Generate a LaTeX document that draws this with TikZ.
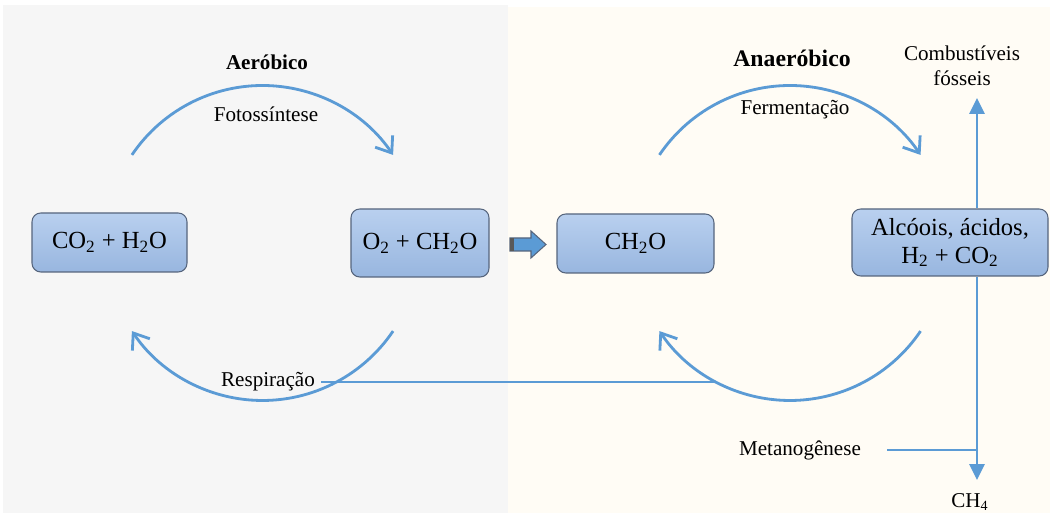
\documentclass[tikz,border=0pt]{standalone}
\usepackage{fontspec}
\setmainfont{Liberation Serif}
\usetikzlibrary{arrows.meta, calc}

\definecolor{seta}{HTML}{5B9BD5}
\definecolor{caixaborda}{HTML}{56657D}
\definecolor{caixatopo}{HTML}{B9D0EF}
\definecolor{caixabase}{HTML}{98B6DF}
\definecolor{fundoaer}{HTML}{F6F6F6}
\definecolor{fundoanaer}{HTML}{FFFCF5}

\begin{document}
\begin{tikzpicture}[
  caixa/.style={draw=caixaborda, line width=0.6pt, rounded corners=5pt, top color=caixatopo, bottom color=caixabase, font=\fontsize{14}{16}\selectfont, align=center, inner sep=2pt},
  rotulo/.style={font=\fontsize{12}{14}\selectfont},
  ciclo/.style={seta, line width=1.6pt, -{Straight Barb[length=8pt, width=12pt]}},
  ramo/.style={seta, line width=1.5pt, -{Triangle[length=9pt, width=8.5pt]}},
  guia/.style={seta, line width=0.8pt}
]
  \useasboundingbox (0,0) rectangle (21,10.26);
  % fundos
  \fill[fundoaer] (0.06,0) rectangle (10.16,10.16);
  \fill[fundoanaer] (10.16,0) rectangle (21,10.12);
  % caixas
  \node[caixa, minimum width=3.1cm, minimum height=1.18cm] (co2) at (2.19,5.41) {CO\textsubscript{2} + H\textsubscript{2}O};
  \node[caixa, minimum width=2.76cm, minimum height=1.36cm] (o2) at (8.4,5.40) {O\textsubscript{2} + CH\textsubscript{2}O};
  \node[caixa, minimum width=3.14cm, minimum height=1.18cm] (ch2o) at (12.71,5.39) {CH\textsubscript{2}O};
  \node[caixa, minimum width=3.92cm, minimum height=1.34cm] (alc) at (19.0,5.41) {Alcóois, ácidos,\\H\textsubscript{2} + CO\textsubscript{2}};
  % passagem
  \filldraw[fill=seta, draw=caixaborda, line width=0.6pt] (10.2,5.5) -- (10.62,5.5) -- (10.62,5.64) -- (10.92,5.37) -- (10.62,5.10) -- (10.62,5.24) -- (10.2,5.24) -- cycle;
  \fill[black!65] (10.2,5.24) rectangle (10.28,5.5);
  % titulos
  \node[font=\fontsize{12}{14}\selectfont\bfseries] (aer) at (5.34,9.02) {Aeróbico};
  \node[font=\fontsize{13.5}{15}\selectfont\bfseries] (anaer) at (15.84,9.1) {Anaeróbico};
  % ciclo aerobico
  \coordinate (ca) at (5.25,5.4);
  \draw[ciclo] ($(ca)+(146:3.15)$) arc[start angle=146, end angle=34, radius=3.15];
  \draw[ciclo] ($(ca)+(-34:3.15)$) arc[start angle=-34, end angle=-146, radius=3.15];
  \node[rotulo] (foto) at (5.32,7.98) {Fotossíntese};
  \node[rotulo] (resp) at (5.36,2.62) {Respiração};
  % ciclo anaerobico
  \coordinate (cb) at (15.8,5.4);
  \draw[ciclo] ($(cb)+(146:3.15)$) arc[start angle=146, end angle=34, radius=3.15];
  \draw[ciclo] ($(cb)+(-34:3.15)$) arc[start angle=-34, end angle=-146, radius=3.15];
  \coordinate (ra) at ($(cb)+(242:3.15)$);
  \node[rotulo] (ferm) at (15.9,8.06) {Fermentação};
  \draw[guia] (resp.east) -- (resp.east -| ra);
  % ramos
  \coordinate (sobe) at (19.54,8.30);
  \coordinate (desce) at (19.54,0.66);
  \draw[ramo] (alc.north -| sobe) -- (sobe);
  \draw[ramo] (alc.south -| desce) -- (desce);
  \node[rotulo, align=center] (fos) at (19.24,8.94) {Combustíveis\\fósseis};
  \node[rotulo] (ch4) at (19.4,0.22) {CH\textsubscript{4}};
  \node[rotulo] (meta) at (16.0,1.26) {Metanogênese};
  \draw[guia] ([xshift=0.4cm]meta.east) -- (meta.east -| desce);
\end{tikzpicture}
\end{document}
